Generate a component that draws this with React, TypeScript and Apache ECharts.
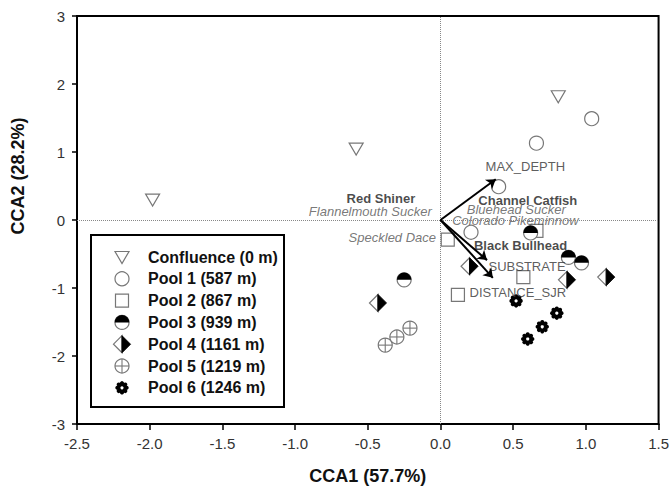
import React, { useEffect, useRef } from "react";
import * as echarts from "echarts";

// ---- Data (site scores) ----
const confluence: number[][] = [[-1.98, 0.3], [-0.58, 1.05], [0.81, 1.82]];
const pool1: number[][] = [[1.04, 1.49], [0.66, 1.13], [0.4, 0.49], [0.21, -0.18]];
const pool2: number[][] = [[0.05, -0.29], [0.66, -0.16], [0.57, -0.84], [0.12, -1.1]];
const pool3: number[][] = [[-0.25, -0.88], [0.62, -0.19], [0.88, -0.55], [0.97, -0.63]];
const pool4: number[][] = [[-0.43, -1.22], [0.2, -0.68], [0.87, -0.88], [1.14, -0.84]];
const pool5: number[][] = [[-0.38, -1.84], [-0.3, -1.72], [-0.21, -1.59]];
const pool6: number[][] = [[0.52, -1.19], [0.8, -1.37], [0.7, -1.57], [0.6, -1.75]];

const groupNames = [
  "Confluence (0 m)",
  "Pool 1 (587 m)",
  "Pool 2 (867 m)",
  "Pool 3 (939 m)",
  "Pool 4 (1161 m)",
  "Pool 5 (1219 m)",
  "Pool 6 (1246 m)",
];
const groupData = [confluence, pool1, pool2, pool3, pool4, pool5, pool6];

// species scores (label anchors)
const speciesNames = [
  "Red Shiner",
  "Flannelmouth Sucker",
  "Speckled Dace",
  "Channel Catfish",
  "Bluehead Sucker",
  "Colorado Pikeminnow",
  "Black Bullhead",
];
const speciesX = [-0.41, -0.06, -0.03, 0.26, 0.18, 0.08, 0.23];
const speciesY = [0.32, 0.12, -0.25, 0.29, 0.15, 0.0, -0.37];

// environmental vectors
const envNames = ["MAX_DEPTH", "SUBSTRATE", "DISTANCE_SJR"];
const envX = [0.38, 0.32, 0.36];
const envY = [0.6, -0.59, -0.85];
const envLabelX = [0.31, 0.33, 0.2];
const envLabelY = [0.79, -0.68, -1.06];

const xTicks = [-2.5, -2.0, -1.5, -1.0, -0.5, 0.0, 0.5, 1.0, 1.5];
const yTicks = [-3, -2, -1, 0, 1, 2, 3];

// ---- styles ----
const FONT = '"Liberation Sans", Arial, sans-serif';
const GRAY = "#777";
const kinds = ["tri", "circle", "square", "half", "diamond", "cross", "cog"];
const speciesBold = [true, false, false, true, false, false, true];
const speciesAlign = ["center", "right", "right", "left", "left", "left", "left"];

function marker(kind: string, cx: number, cy: number): any[] {
  const hollow = { fill: "#fff", stroke: GRAY, lineWidth: 1.2 };
  switch (kind) {
    case "tri":
      return [
        {
          type: "polygon",
          shape: { points: [[cx - 7, cy - 5.5], [cx + 7, cy - 5.5], [cx, cy + 6.5]] },
          style: hollow,
        },
      ];
    case "circle":
      return [{ type: "circle", shape: { cx, cy, r: 7 }, style: hollow }];
    case "square":
      return [{ type: "rect", shape: { x: cx - 6.5, y: cy - 6.5, width: 13, height: 13 }, style: hollow }];
    case "half":
      return [
        { type: "circle", shape: { cx, cy, r: 7 }, style: hollow },
        {
          type: "sector",
          shape: { cx, cy, r0: 0, r: 7.3, startAngle: Math.PI, endAngle: Math.PI * 2, clockwise: true },
          style: { fill: "#000" },
        },
      ];
    case "diamond":
      return [
        {
          type: "polygon",
          shape: { points: [[cx, cy - 8.5], [cx - 8.5, cy], [cx, cy + 8.5]] },
          style: hollow,
        },
        {
          type: "polygon",
          shape: { points: [[cx, cy - 8.5], [cx + 8.5, cy], [cx, cy + 8.5]] },
          style: { fill: "#000", stroke: "#000", lineWidth: 1 },
        },
      ];
    case "cross":
      return [
        { type: "circle", shape: { cx, cy, r: 7 }, style: hollow },
        { type: "line", shape: { x1: cx, y1: cy - 7, x2: cx, y2: cy + 7 }, style: { stroke: GRAY, lineWidth: 1.1 } },
        { type: "line", shape: { x1: cx - 7, y1: cy, x2: cx + 7, y2: cy }, style: { stroke: GRAY, lineWidth: 1.1 } },
      ];
    case "cog": {
      const parts: any[] = [{ type: "circle", shape: { cx, cy, r: 4.6 }, style: { fill: "#000" } }];
      for (let k = 0; k < 8; k++) {
        const a = (k * Math.PI) / 4;
        parts.push({
          type: "circle",
          shape: { cx: cx + Math.cos(a) * 4.6, cy: cy + Math.sin(a) * 4.6, r: 2.1 },
          style: { fill: "#000" },
        });
      }
      parts.push({ type: "circle", shape: { cx, cy, r: 1.6 }, style: { fill: "#fff" } });
      return parts;
    }
  }
  return [];
}

export default function App() {
  const ref = useRef<HTMLDivElement>(null);

  useEffect(() => {
    if (!ref.current) return;
    const chart = echarts.init(ref.current, undefined, { renderer: "svg" });

    const siteSeries = groupData.map((data, gi) => ({
      type: "custom",
      name: groupNames[gi],
      coordinateSystem: "cartesian2d",
      data,
      z: 3,
      renderItem: (_params: any, api: any) => {
        const p = api.coord([api.value(0), api.value(1)]);
        return { type: "group", children: marker(kinds[gi], p[0], p[1]) };
      },
    }));

    const speciesData = speciesNames.map((n, i) => ({
      name: n,
      value: [speciesX[i], speciesY[i]],
      label: {
        show: true,
        formatter: n,
        position: speciesAlign[i] === "center" ? "inside" : speciesAlign[i] === "right" ? "left" : "right",
        distance: 0,
        fontFamily: FONT,
        fontSize: 13,
        fontWeight: speciesBold[i] ? "bold" : "normal",
        fontStyle: speciesBold[i] ? "normal" : "italic",
        color: speciesBold[i] ? "#1a1a1a" : "#555",
      },
    }));

    const envLabelData = envNames.map((n, i) => ({
      name: n,
      value: [envLabelX[i], envLabelY[i]],
    }));

    const legendChildren: any[] = [
      {
        type: "rect",
        shape: { x: 91, y: 235, width: 193, height: 172 },
        style: { fill: "#fff", stroke: "#000", lineWidth: 2 },
      },
    ];
    groupNames.forEach((n, i) => {
      const y = 257 + i * 21.8;
      legendChildren.push(...marker(kinds[i], 122, y));
      legendChildren.push({
        type: "text",
        x: 148,
        y,
        style: {
          text: n,
          font: `bold 16px ${FONT}`,
          fill: "#111",
          textAlign: "left",
          textVerticalAlign: "middle",
        },
      });
    });

    const option: any = {
      animation: false,
      backgroundColor: "#fff",
      grid: {
        left: 77,
        right: 12,
        top: 16,
        bottom: 69,
        show: true,
        borderColor: "#000",
        borderWidth: 2,
        backgroundColor: "transparent",
      },
      xAxis: {
        type: "value",
        min: xTicks[0],
        max: xTicks[xTicks.length - 1],
        interval: 0.5,
        name: "CCA1 (57.7%)",
        nameLocation: "middle",
        nameGap: 43,
        nameTextStyle: { fontFamily: FONT, fontSize: 18, fontWeight: "bold", color: "#111" },
        axisLine: { show: true, onZero: false, lineStyle: { color: "#000", width: 2 } },
        axisTick: { show: true, inside: false, length: 6, lineStyle: { color: "#000", width: 1.5 } },
        axisLabel: {
          margin: 12,
          fontFamily: FONT,
          fontSize: 15,
          color: "#333",
          formatter: (v: number) => v.toFixed(1),
        },
        splitLine: { show: false },
      },
      yAxis: {
        type: "value",
        min: yTicks[0],
        max: yTicks[yTicks.length - 1],
        interval: 1,
        axisLine: { show: true, onZero: false, lineStyle: { color: "#000", width: 2 } },
        axisTick: { show: true, inside: false, length: 5, lineStyle: { color: "#000", width: 1.5 } },
        axisLabel: { margin: 12, fontFamily: FONT, fontSize: 15, color: "#333" },
        splitLine: { show: false },
      },
      series: [
        {
          type: "scatter",
          name: "species",
          data: speciesData,
          symbolSize: 0.1,
          z: 4,
          silent: true,
          markLine: {
            silent: true,
            symbol: "none",
            label: { show: false },
            lineStyle: { type: "dotted", color: "#888", width: 1 },
            data: [{ xAxis: 0 }, { yAxis: 0 }],
          },
        },
        ...siteSeries,
        {
          type: "lines",
          coordinateSystem: "cartesian2d",
          z: 5,
          symbol: ["none", "arrow"],
          symbolSize: 9,
          lineStyle: { color: "#000", width: 2, opacity: 1 },
          data: envNames.map((n, i) => ({ name: n, coords: [[0, 0], [envX[i], envY[i]]] })),
        },
        {
          type: "scatter",
          name: "env",
          data: envLabelData,
          symbolSize: 0.1,
          z: 4,
          silent: true,
          label: {
            show: true,
            position: "right",
            distance: 0,
            formatter: (p: any) => p.name,
            fontFamily: FONT,
            fontSize: 13,
            color: "#333",
          },
        },
      ],
      graphic: [
        {
          type: "text",
          x: 18,
          y: 176,
          rotation: Math.PI / 2,
          style: {
            text: "CCA2 (28.2%)",
            font: `bold 18px ${FONT}`,
            fill: "#111",
            textAlign: "center",
            textVerticalAlign: "middle",
          },
        },
        { type: "group", z: 50, children: legendChildren },
      ],
    };

    chart.setOption(option);
    return () => chart.dispose();
  }, []);

  return (
    <div
      ref={ref}
      style={{ position: "fixed", left: 0, top: 0, width: 672, height: 493, background: "#fff" }}
    />
  );
}
